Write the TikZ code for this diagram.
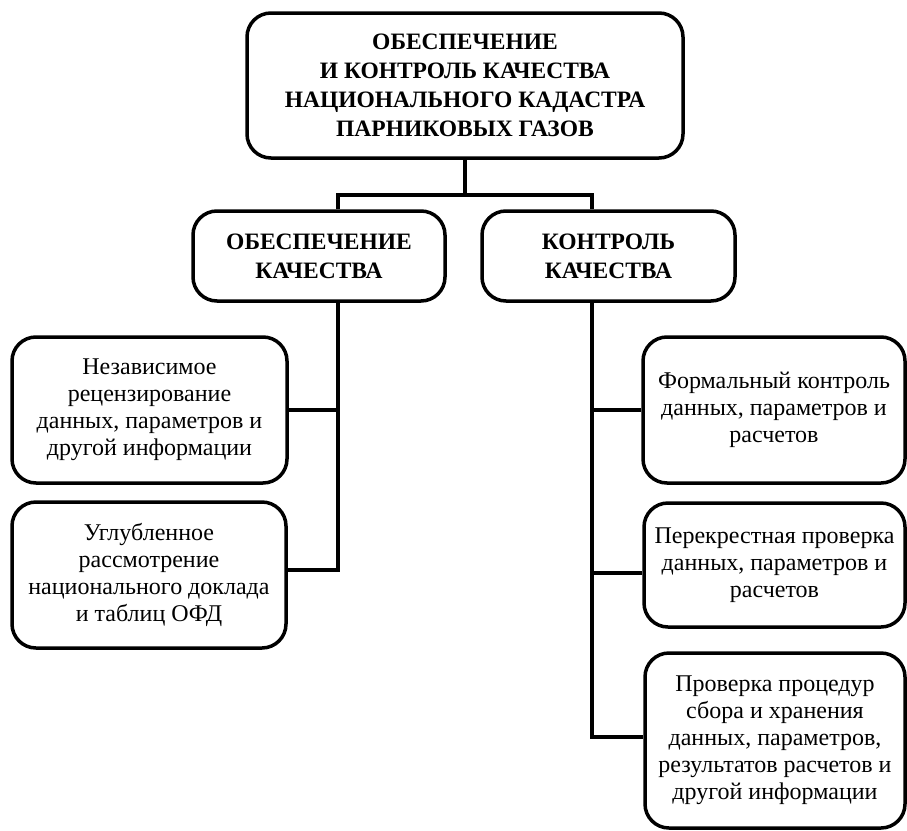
\documentclass[tikz,border=0pt]{standalone}
\usepackage{fontspec}
\setmainfont{LiberationSerif}[Extension=.ttf, UprightFont=*-Regular, BoldFont=*-Bold]
\usetikzlibrary{positioning,calc}

\begin{document}
\begin{tikzpicture}[
  x=1pt, y=-1pt, line width=3.5pt,
  box/.style={draw, rounded corners=24pt, align=center, inner sep=2pt},
  head/.style={box, font=\bfseries\fontsize{23.5}{29}\selectfont},
  item/.style={box, font=\fontsize{24}{27}\selectfont}]
\useasboundingbox (0,0) rectangle (907,830);
% main box and the two branches
\node[head, minimum width=436pt, minimum height=145pt] (top) at (465,85.5) {ОБЕСПЕЧЕНИЕ\\ И КОНТРОЛЬ КАЧЕСТВА\\ НАЦИОНАЛЬНОГО КАДАСТРА\\ ПАРНИКОВЫХ ГАЗОВ};
\node[head, minimum width=252pt, minimum height=90pt] (qa) at (319,256) {ОБЕСПЕЧЕНИЕ\\ КАЧЕСТВА};
\node[head, minimum width=253pt, minimum height=90pt] (qc) at (608.5,256) {КОНТРОЛЬ\\ КАЧЕСТВА};
% left items
\node[item, minimum width=275pt, minimum height=146pt] (la1) at (149.5,410) {Независимое\\ рецензирование\\ данных, параметров и\\ другой информации};
\node[item, minimum width=274pt, minimum height=146pt] (la2) at (149,575) {Углубленное\\ рассмотрение\\ национального доклада\\ и таблиц ОФД};
% right items
\node[item, minimum width=262pt, minimum height=146pt] (rc1) at (774,410) {Формальный контроль\\ данных, параметров и\\ расчетов};
\node[item, minimum width=261pt, minimum height=124pt] (rc2) at (774.5,565) {Перекрестная проверка\\ данных, параметров и\\ расчетов};
\node[item, minimum width=260pt, minimum height=175pt] (rc3) at (775,740.5) {Проверка процедур\\ сбора и хранения\\ данных, параметров,\\ результатов расчетов и\\ другой информации};
% connectors
\draw (top.south) -- ++(0,-35pt) coordinate (fork);
\draw ([xshift=19pt]qa.north) |- (fork) -| ([xshift=-16.5pt]qc.north);
\coordinate (ltrunk) at ([xshift=19pt]qa.south);
\coordinate (rtrunk) at ([xshift=-16.5pt]qc.south);
\draw (ltrunk) |- ([yshift=5pt]la2.east);
\draw (la1.east) -- (la1.east -| ltrunk);
\draw (rtrunk) |- ([yshift=3.5pt]rc3.west);
\draw (rc1.west) -- (rc1.west -| rtrunk);
\draw ([yshift=-8pt]rc2.west) -- ([yshift=-8pt]rc2.west -| rtrunk);
\end{tikzpicture}
\end{document}
